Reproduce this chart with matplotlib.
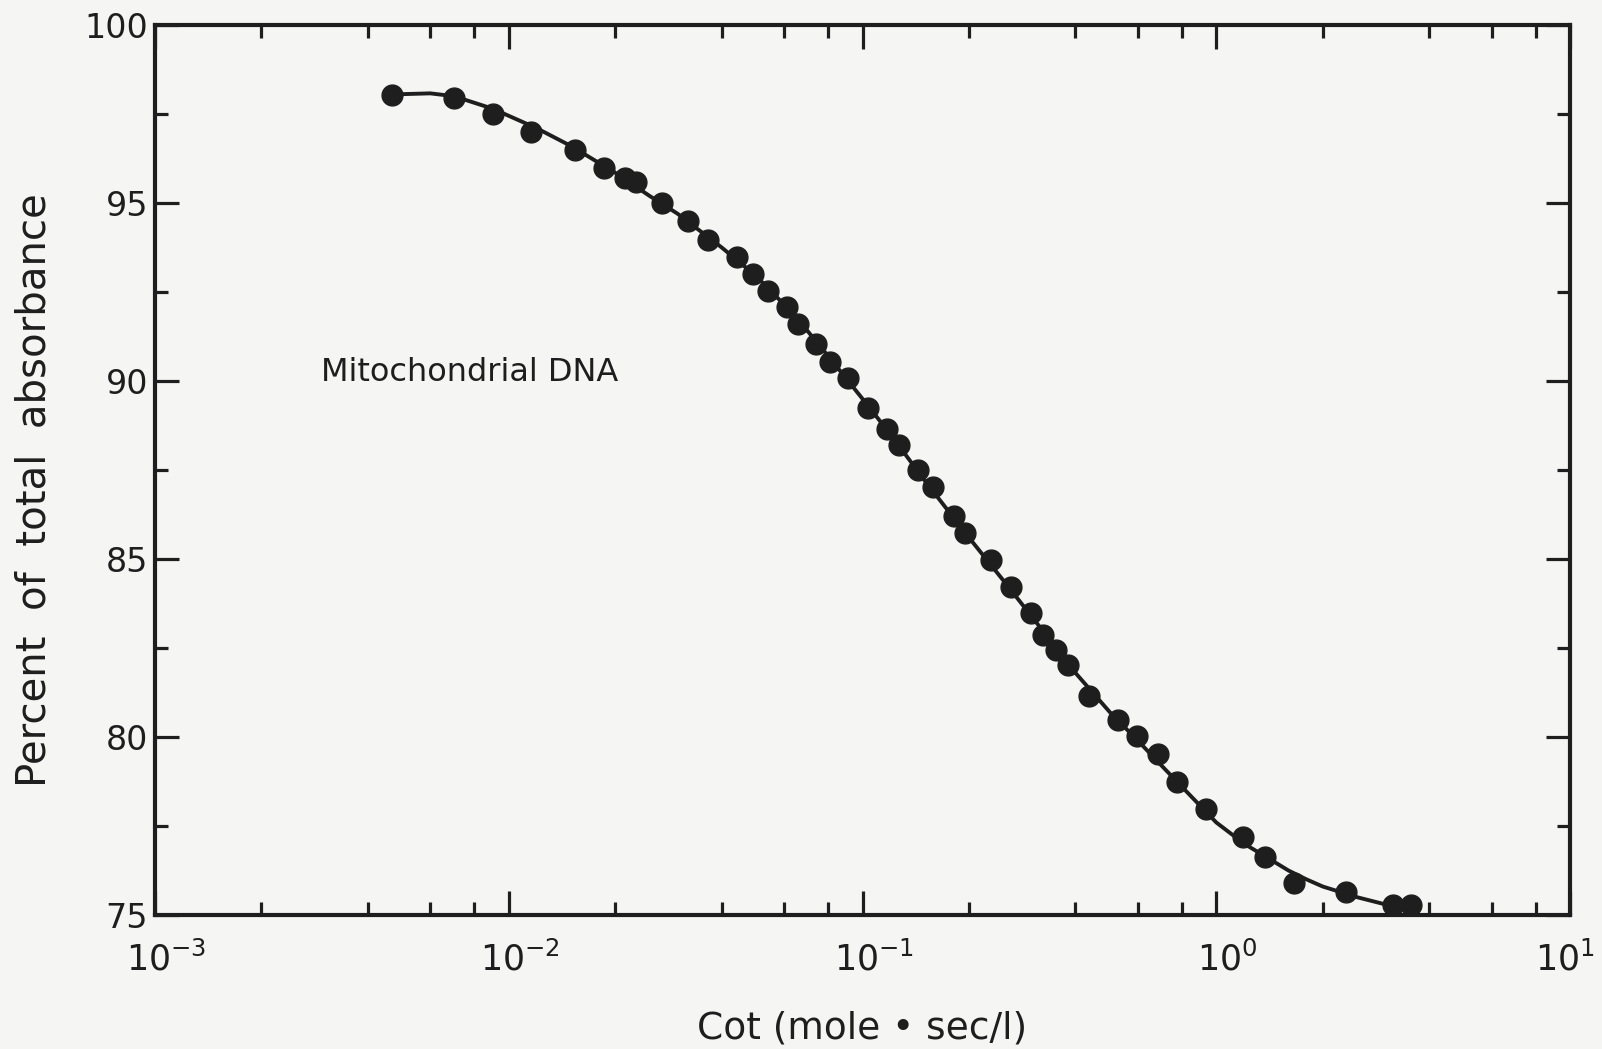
import matplotlib.pyplot as plt
import numpy as np
from matplotlib.ticker import LogLocator, FixedLocator, NullFormatter
from matplotlib.transforms import ScaledTranslation

plt.rcParams["font.family"] = "DejaVu Sans"
plt.rcParams["mathtext.fontset"] = "dejavusans"

ink = '#1e1e1e'
paper = '#f5f5f3'

cot = [0.00468, 0.00702, 0.00903, 0.01156, 0.01538, 0.01854, 0.0213, 0.0229,
       0.0271, 0.0322, 0.0365, 0.0443, 0.0489, 0.0541, 0.0610, 0.0656,
       0.0739, 0.0811, 0.0908, 0.1038, 0.1170, 0.1268, 0.1437, 0.1578,
       0.1813, 0.1951, 0.2303, 0.2632, 0.2985, 0.3235, 0.3532, 0.382,
       0.4365, 0.526, 0.596, 0.686, 0.773, 0.937, 1.191, 1.377,
       1.660, 2.33, 3.16, 3.56]
absorbance = [98.02, 97.94, 97.50, 96.99, 96.50, 95.99, 95.70, 95.58,
              95.01, 94.50, 93.95, 93.49, 93.00, 92.52, 92.09, 91.60,
              91.03, 90.54, 90.08, 89.25, 88.65, 88.19, 87.50, 87.01,
              86.21, 85.72, 84.98, 84.20, 83.49, 82.86, 82.43, 82.02,
              81.16, 80.48, 80.02, 79.53, 78.73, 77.98, 77.18, 76.63,
              75.89, 75.66, 75.29, 75.29]

# fitted curve
curve_cot = [0.0047, 0.006, 0.007, 0.009, 0.012, 0.015, 0.02, 0.025, 0.03,
             0.04, 0.05, 0.06, 0.07, 0.08, 0.1, 0.12, 0.15, 0.2, 0.25, 0.3,
             0.4, 0.5, 0.6, 0.7, 0.8, 1.0, 1.2, 1.4, 1.6, 1.8, 2.0, 2.5,
             3.0, 3.5]
curve_abs = [98.05, 98.08, 98.0, 97.65, 97.1, 96.6, 95.85, 95.2, 94.7,
             93.75, 92.95, 92.15, 91.4, 90.7, 89.5, 88.5, 87.2, 85.6, 84.4, 83.4,
             81.8, 80.7, 79.9, 79.2, 78.6, 77.6, 77.0, 76.6, 76.25, 76.0, 75.8,
             75.5, 75.3, 75.15]

x_ticks = [1e-3, 1e-2, 1e-1, 1e0, 1e1]
x_ticklabels = ['$10^{-3}$', '$10^{-2}$', '$10^{-1}$', '$10^{0}$', '$10^{1}$']
y_ticks = [75, 80, 85, 90, 95, 100]

fig = plt.figure(figsize=(16.02, 10.49), dpi=100, facecolor=paper)
ax = fig.add_axes([155/1602, 1 - 915/1049, (1570-155)/1602, (915-25)/1049])
ax.set_facecolor(paper)

ax.plot(curve_cot, curve_abs, color=ink, linewidth=2.8, zorder=2)
ax.plot(cot, absorbance, 'o', color=ink, markersize=15, zorder=3, clip_on=False)

ax.set_xscale('log')
ax.set_xlim(1e-3, 1e1)
ax.set_ylim(75, 100)

ax.xaxis.set_major_locator(FixedLocator(x_ticks))
ax.set_xticklabels(x_ticklabels)
ax.xaxis.set_minor_locator(LogLocator(base=10, subs=[2, 4, 6, 8], numticks=10))
ax.xaxis.set_minor_formatter(NullFormatter())
ax.yaxis.set_major_locator(FixedLocator(y_ticks))
ax.yaxis.set_minor_locator(FixedLocator([77.5, 82.5, 87.5, 92.5, 97.5]))
ax.set_yticklabels([str(t) for t in y_ticks])

for s in ax.spines.values():
    s.set_linewidth(3.0)
    s.set_color(ink)

ax.tick_params(which='both', direction='in', top=True, right=True, colors=ink)
ax.tick_params(which='major', length=17, width=2.3)
ax.tick_params(which='minor', length=9.5, width=2.3)
ax.tick_params(axis='y', labelsize=24, pad=5)
ax.tick_params(axis='x', labelsize=25, pad=19)

# the "10" sits under the tick, exponent hangs off to the right
xlabels = ax.get_xticklabels()
for i, lab in enumerate(xlabels):
    dx = 8 if i < len(xlabels) - 1 else -4
    lab.set_transform(lab.get_transform() + ScaledTranslation(dx/72, 0, fig.dpi_scale_trans))

ax.set_ylabel('Percent  of  total  absorbance', fontsize=29, color=ink)
ax.yaxis.label.set_va('center')
ax.yaxis.set_label_coords(-0.0855, 0.4775)
ax.set_xlabel('Cot (mole \u2022 sec/l)', fontsize=27, color=ink, labelpad=24)

ax.text(0.00294, 90.25, 'Mitochondrial DNA', fontsize=23, color=ink, va='center')

plt.savefig('out.png', dpi=100, facecolor=paper)
